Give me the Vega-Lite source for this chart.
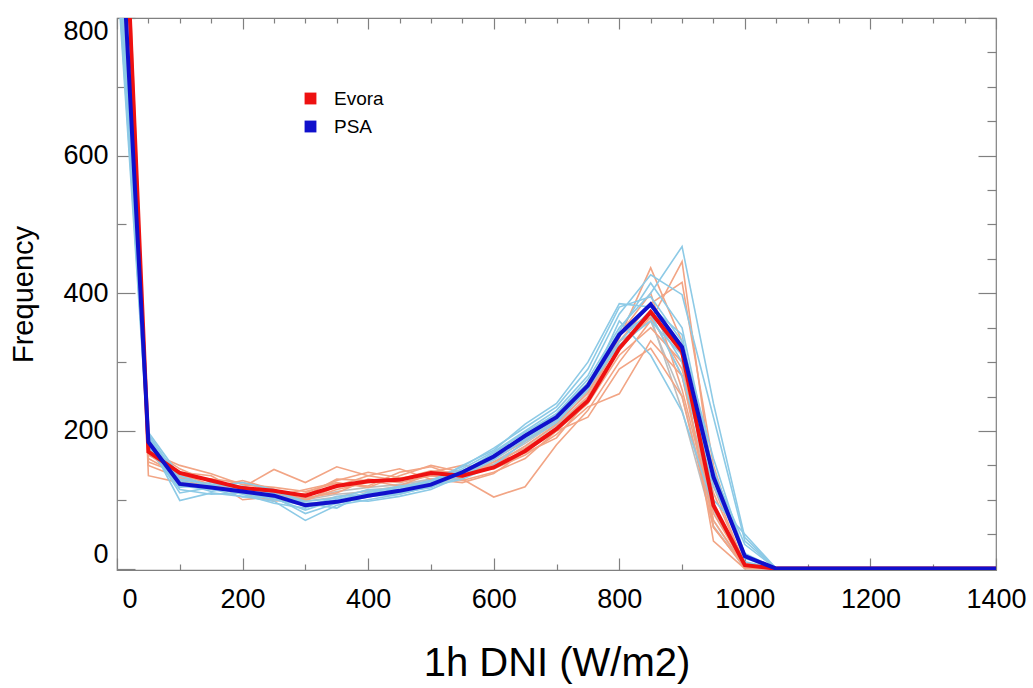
{
  "$schema": "https://vega.github.io/schema/vega-lite/v6.json",
  "width": 879,
  "height": 552,
  "autosize": {"type": "none"},
  "padding": {"left": 117, "top": 18, "right": 37, "bottom": 118},
  "background": "white",
  "config": {
    "font": "Liberation Sans",
    "view": {"stroke": "#808080", "strokeWidth": 1.2},
    "axis": {
      "domain": false,
      "grid": false,
      "labelColor": "black",
      "labelFont": "Liberation Sans",
      "labelFontSize": 27,
      "labelOverlap": false,
      "tickColor": "#808080",
      "tickWidth": 1.2,
      "titleColor": "black",
      "titleFont": "Liberation Sans",
      "titleFontWeight": "normal"
    }
  },
  "datasets": {
    "members": [
      {"x": 0, "E1": 1250, "E2": 1280, "E3": 1220, "E4": 1300, "E5": 1240, "E6": 1260, "E7": 1270, "E8": 1230, "P1": 900, "P2": 880, "P3": 920, "P4": 890, "P5": 910, "P6": 940, "P7": 900, "P8": 950, "P9": 870, "G1": 1000, "G2": 1020, "G3": 990},
      {"x": 50, "E1": 160, "E2": 135, "E3": 175, "E4": 170, "E5": 165, "E6": 150, "E7": 168, "E8": 155, "P1": 195, "P2": 190, "P3": 185, "P4": 198, "P5": 175, "P6": 180, "P7": 188, "P8": 192, "P9": 178, "G1": 180, "G2": 172, "G3": 176},
      {"x": 100, "E1": 135, "E2": 125, "E3": 145, "E4": 150, "E5": 140, "E6": 132, "E7": 128, "E8": 138, "P1": 130, "P2": 120, "P3": 99, "P4": 135, "P5": 115, "P6": 110, "P7": 125, "P8": 128, "P9": 118, "G1": 128, "G2": 132, "G3": 125},
      {"x": 150, "E1": 130, "E2": 120, "E3": 125, "E4": 138, "E5": 135, "E6": 130, "E7": 118, "E8": 122, "P1": 122, "P2": 115, "P3": 110, "P4": 120, "P5": 108, "P6": 118, "P7": 112, "P8": 116, "P9": 125, "G1": 120, "G2": 122, "G3": 118},
      {"x": 200, "E1": 125, "E2": 110, "E3": 118, "E4": 122, "E5": 110, "E6": 100, "E7": 128, "E8": 115, "P1": 118, "P2": 112, "P3": 105, "P4": 125, "P5": 110, "P6": 108, "P7": 120, "P8": 104, "P9": 115, "G1": 112, "G2": 115, "G3": 110},
      {"x": 250, "E1": 112, "E2": 100, "E3": 144, "E4": 118, "E5": 98, "E6": 105, "E7": 115, "E8": 108, "P1": 110, "P2": 102, "P3": 98, "P4": 115, "P5": 100, "P6": 95, "P7": 108, "P8": 104, "P9": 112, "G1": 108, "G2": 110, "G3": 106},
      {"x": 300, "E1": 100, "E2": 110, "E3": 125, "E4": 112, "E5": 103, "E6": 115, "E7": 98, "E8": 106, "P1": 90, "P2": 85, "P3": 70, "P4": 95, "P5": 92, "P6": 88, "P7": 95, "P8": 80, "P9": 98, "G1": 100, "G2": 102, "G3": 98},
      {"x": 350, "E1": 115, "E2": 128, "E3": 148, "E4": 124, "E5": 110, "E6": 125, "E7": 120, "E8": 130, "P1": 95, "P2": 100, "P3": 92, "P4": 88, "P5": 100, "P6": 105, "P7": 98, "P8": 95, "P9": 102, "G1": 108, "G2": 112, "G3": 104},
      {"x": 400, "E1": 125, "E2": 140, "E3": 135, "E4": 120, "E5": 130, "E6": 118, "E7": 135, "E8": 128, "P1": 104, "P2": 110, "P3": 100, "P4": 112, "P5": 98, "P6": 108, "P7": 110, "P8": 105, "P9": 115, "G1": 112, "G2": 118, "G3": 114},
      {"x": 450, "E1": 130, "E2": 132, "E3": 128, "E4": 140, "E5": 125, "E6": 135, "E7": 145, "E8": 120, "P1": 112, "P2": 115, "P3": 108, "P4": 118, "P5": 105, "P6": 110, "P7": 120, "P8": 108, "P9": 115, "G1": 120, "G2": 122, "G3": 118},
      {"x": 500, "E1": 142, "E2": 135, "E3": 140, "E4": 148, "E5": 135, "E6": 150, "E7": 130, "E8": 138, "P1": 118, "P2": 125, "P3": 120, "P4": 128, "P5": 115, "P6": 118, "P7": 125, "P8": 120, "P9": 128, "G1": 128, "G2": 130, "G3": 126},
      {"x": 550, "E1": 138, "E2": 130, "E3": 150, "E4": 132, "E5": 128, "E6": 140, "E7": 125, "E8": 142, "P1": 138, "P2": 145, "P3": 142, "P4": 148, "P5": 135, "P6": 140, "P7": 150, "P8": 130, "P9": 142, "G1": 138, "G2": 136, "G3": 140},
      {"x": 600, "E1": 150, "E2": 104, "E3": 145, "E4": 155, "E5": 140, "E6": 160, "E7": 138, "E8": 150, "P1": 160, "P2": 170, "P3": 165, "P4": 175, "P5": 158, "P6": 168, "P7": 172, "P8": 150, "P9": 162, "G1": 155, "G2": 152, "G3": 158},
      {"x": 650, "E1": 178, "E2": 119, "E3": 165, "E4": 175, "E5": 160, "E6": 185, "E7": 170, "E8": 168, "P1": 195, "P2": 200, "P3": 190, "P4": 205, "P5": 188, "P6": 198, "P7": 210, "P8": 185, "P9": 192, "G1": 182, "G2": 178, "G3": 186},
      {"x": 700, "E1": 210, "E2": 180, "E3": 195, "E4": 205, "E5": 200, "E6": 215, "E7": 200, "E8": 190, "P1": 225, "P2": 230, "P3": 218, "P4": 235, "P5": 215, "P6": 225, "P7": 240, "P8": 212, "P9": 220, "G1": 212, "G2": 208, "G3": 216},
      {"x": 750, "E1": 255, "E2": 230, "E3": 235, "E4": 250, "E5": 240, "E6": 270, "E7": 220, "E8": 245, "P1": 275, "P2": 280, "P3": 260, "P4": 290, "P5": 265, "P6": 270, "P7": 300, "P8": 262, "P9": 268, "G1": 255, "G2": 250, "G3": 258},
      {"x": 800, "E1": 335, "E2": 300, "E3": 254, "E4": 330, "E5": 310, "E6": 340, "E7": 290, "E8": 320, "P1": 350, "P2": 370, "P3": 360, "P4": 380, "P5": 330, "P6": 345, "P7": 385, "P8": 325, "P9": 340, "G1": 330, "G2": 320, "G3": 340},
      {"x": 850, "E1": 437, "E2": 360, "E3": 331, "E4": 385, "E5": 350, "E6": 400, "E7": 320, "E8": 365, "P1": 400, "P2": 427, "P3": 310, "P4": 395, "P5": 375, "P6": 415, "P7": 380, "P8": 360, "P9": 370, "G1": 360, "G2": 370, "G3": 365},
      {"x": 900, "E1": 330, "E2": 446, "E3": 280, "E4": 416, "E5": 300, "E6": 260, "E7": 250, "E8": 290, "P1": 468, "P2": 398, "P3": 228, "P4": 330, "P5": 300, "P6": 350, "P7": 340, "P8": 310, "P9": 280, "G1": 250, "G2": 280, "G3": 230},
      {"x": 950, "E1": 60, "E2": 120, "E3": 70, "E4": 150, "E5": 40, "E6": 80, "E7": 60, "E8": 110, "P1": 240, "P2": 220, "P3": 90, "P4": 160, "P5": 130, "P6": 140, "P7": 100, "P8": 145, "P9": 120, "G1": 70, "G2": 85, "G3": 62},
      {"x": 1000, "E1": 2, "E2": 5, "E3": 3, "E4": 8, "E5": 0, "E6": 4, "E7": 2, "E8": 6, "P1": 45, "P2": 40, "P3": 10, "P4": 20, "P5": 15, "P6": 35, "P7": 50, "P8": 18, "P9": 22, "G1": 0, "G2": 2, "G3": 0},
      {"x": 1050, "E1": 0, "E2": 0, "E3": 0, "E4": 0, "E5": 0, "E6": 0, "E7": 0, "E8": 0, "P1": 0, "P2": 0, "P3": 0, "P4": 0, "P5": 0, "P6": 0, "P7": 0, "P8": 0, "P9": 0, "G1": 0, "G2": 0, "G3": 0},
      {"x": 1100, "E1": 0, "E2": 0, "E3": 0, "E4": 0, "E5": 0, "E6": 0, "E7": 0, "E8": 0, "P1": 0, "P2": 0, "P3": 0, "P4": 0, "P5": 0, "P6": 0, "P7": 0, "P8": 0, "P9": 0, "G1": 0, "G2": 0, "G3": 0},
      {"x": 1150, "E1": 0, "E2": 0, "E3": 0, "E4": 0, "E5": 0, "E6": 0, "E7": 0, "E8": 0, "P1": 0, "P2": 0, "P3": 0, "P4": 0, "P5": 0, "P6": 0, "P7": 0, "P8": 0, "P9": 0, "G1": 0, "G2": 0, "G3": 0},
      {"x": 1200, "E1": 0, "E2": 0, "E3": 0, "E4": 0, "E5": 0, "E6": 0, "E7": 0, "E8": 0, "P1": 0, "P2": 0, "P3": 0, "P4": 0, "P5": 0, "P6": 0, "P7": 0, "P8": 0, "P9": 0, "G1": 0, "G2": 0, "G3": 0},
      {"x": 1250, "E1": 0, "E2": 0, "E3": 0, "E4": 0, "E5": 0, "E6": 0, "E7": 0, "E8": 0, "P1": 0, "P2": 0, "P3": 0, "P4": 0, "P5": 0, "P6": 0, "P7": 0, "P8": 0, "P9": 0, "G1": 0, "G2": 0, "G3": 0},
      {"x": 1300, "E1": 0, "E2": 0, "E3": 0, "E4": 0, "E5": 0, "E6": 0, "E7": 0, "E8": 0, "P1": 0, "P2": 0, "P3": 0, "P4": 0, "P5": 0, "P6": 0, "P7": 0, "P8": 0, "P9": 0, "G1": 0, "G2": 0, "G3": 0},
      {"x": 1350, "E1": 0, "E2": 0, "E3": 0, "E4": 0, "E5": 0, "E6": 0, "E7": 0, "E8": 0, "P1": 0, "P2": 0, "P3": 0, "P4": 0, "P5": 0, "P6": 0, "P7": 0, "P8": 0, "P9": 0, "G1": 0, "G2": 0, "G3": 0},
      {"x": 1400, "E1": 0, "E2": 0, "E3": 0, "E4": 0, "E5": 0, "E6": 0, "E7": 0, "E8": 0, "P1": 0, "P2": 0, "P3": 0, "P4": 0, "P5": 0, "P6": 0, "P7": 0, "P8": 0, "P9": 0, "G1": 0, "G2": 0, "G3": 0}
    ],
    "means": [
      {"x": 0, "Evora": 1240, "PSA": 1045},
      {"x": 50, "Evora": 170, "PSA": 184},
      {"x": 100, "Evora": 139, "PSA": 123},
      {"x": 150, "Evora": 128, "PSA": 118},
      {"x": 200, "Evora": 117, "PSA": 112},
      {"x": 250, "Evora": 113, "PSA": 106},
      {"x": 300, "Evora": 106, "PSA": 92},
      {"x": 350, "Evora": 120, "PSA": 97},
      {"x": 400, "Evora": 127, "PSA": 106},
      {"x": 450, "Evora": 129, "PSA": 113},
      {"x": 500, "Evora": 139, "PSA": 122},
      {"x": 550, "Evora": 135, "PSA": 140},
      {"x": 600, "Evora": 147, "PSA": 163},
      {"x": 650, "Evora": 171, "PSA": 193},
      {"x": 700, "Evora": 203, "PSA": 220},
      {"x": 750, "Evora": 244, "PSA": 266},
      {"x": 800, "Evora": 320, "PSA": 340},
      {"x": 850, "Evora": 373, "PSA": 384},
      {"x": 900, "Evora": 315, "PSA": 322},
      {"x": 950, "Evora": 92, "PSA": 133},
      {"x": 1000, "Evora": 5, "PSA": 18},
      {"x": 1050, "Evora": 0, "PSA": 0},
      {"x": 1100, "Evora": 0, "PSA": 0},
      {"x": 1150, "Evora": 0, "PSA": 0},
      {"x": 1200, "Evora": 0, "PSA": 0},
      {"x": 1250, "Evora": 0, "PSA": 0},
      {"x": 1300, "Evora": 0, "PSA": 0},
      {"x": 1350, "Evora": 0, "PSA": 0},
      {"x": 1400, "Evora": 0, "PSA": 0}
    ]
  },
  "layer": [
    {
      "layer": [
        {
          "data": {"name": "members"},
          "transform": [
            {"fold": ["G1", "G2", "G3", "E1", "E2", "E3", "E4", "E5", "E6", "E7", "E8", "P1", "P2", "P3", "P4", "P5", "P6", "P7", "P8", "P9"], "as": ["key", "v"]}
          ],
          "mark": {"type": "line", "strokeWidth": 1.6, "clip": true},
          "encoding": {
            "x": {
              "field": "x", "type": "quantitative",
              "scale": {"domain": [0, 1400], "nice": false, "zero": false},
              "axis": {
                "orient": "bottom",
                "format": "d",
                "values": [0, 50, 100, 150, 200, 250, 300, 350, 400, 450, 500, 550, 600, 650, 700, 750, 800, 850, 900, 950, 1000, 1050, 1100, 1150, 1200, 1250, 1300, 1350, 1400],
                "labelExpr": "datum.value % 200 === 0 ? datum.label : ''",
                "tickSize": {"condition": {"test": "datum.value % 200 === 0", "value": -12}, "value": -6},
                "labelAlign": {"condition": {"test": "datum.value === 0", "value": "left"}, "value": "center"},
                "labelOffset": {"condition": {"test": "datum.value === 0", "value": 5}, "value": 0},
                "labelPadding": 28,
                "title": "1h DNI (W/m2)",
                "titleFontSize": 40,
                "titlePadding": 25
              }
            },
            "y": {
              "field": "v", "type": "quantitative",
              "scale": {"domain": [-2, 800], "nice": false, "zero": false},
              "axis": {
                "orient": "left",
                "values": [0, 50, 100, 150, 200, 250, 300, 350, 400, 450, 500, 550, 600, 650, 700, 750, 800],
                "labelExpr": "datum.value % 200 === 0 ? datum.label : ''",
                "tickSize": {"condition": {"test": "datum.value % 200 === 0", "value": -18}, "value": -9},
                "labelFlush": 3,
                "labelPadding": 27,
                "title": "Frequency",
                "titleFontSize": 29,
                "titlePadding": 24
              }
            },
            "stroke": {
              "field": "key", "type": "nominal", "legend": null,
              "scale": {
                "domain": ["G1", "G2", "G3", "E1", "E2", "E3", "E4", "E5", "E6", "E7", "E8", "P1", "P2", "P3", "P4", "P5", "P6", "P7", "P8", "P9"],
                "range": ["#BEBEBE", "#BEBEBE", "#BEBEBE", "#F2A585", "#F2A585", "#F2A585", "#F2A585", "#F2A585", "#F2A585", "#F2A585", "#F2A585", "#8DCAE6", "#8DCAE6", "#8DCAE6", "#8DCAE6", "#8DCAE6", "#8DCAE6", "#8DCAE6", "#8DCAE6", "#8DCAE6"]
              }
            }
          }
        },
        {
          "data": {"name": "means"},
          "transform": [{"fold": ["Evora", "PSA"], "as": ["key", "v"]}],
          "mark": {"type": "line", "strokeWidth": 4, "clip": true},
          "encoding": {
            "x": {"field": "x", "type": "quantitative"},
            "y": {"field": "v", "type": "quantitative"},
            "color": {
              "field": "key", "type": "nominal",
              "scale": {"domain": ["Evora", "PSA"], "range": ["#EE1111", "#1010CC"]},
              "legend": {
                "title": null,
                "orient": "none",
                "legendX": 184,
                "legendY": 71,
                "symbolType": "square",
                "symbolSize": 140,
                "symbolStrokeWidth": 0,
                "labelFont": "Liberation Sans",
                "labelFontSize": 19,
                "labelColor": "black",
                "labelOffset": 14,
                "rowPadding": 8,
                "encode": {
                  "symbols": {"update": {"fill": {"scale": "color", "field": "value"}, "fillOpacity": {"value": 1}}}
                }
              }
            }
          }
        }
      ]
    },
    {
      "data": {"name": "means"},
      "mark": {"type": "point", "opacity": 0},
      "encoding": {
        "x": {
          "field": "x", "type": "quantitative",
          "scale": {"domain": [0, 1400], "nice": false, "zero": false},
          "axis": {
            "orient": "top",
            "labels": false,
            "title": null,
            "values": [0, 50, 100, 150, 200, 250, 300, 350, 400, 450, 500, 550, 600, 650, 700, 750, 800, 850, 900, 950, 1000, 1050, 1100, 1150, 1200, 1250, 1300, 1350, 1400],
            "tickSize": {"condition": {"test": "datum.value % 200 === 0", "value": -11}, "value": -5}
          }
        },
        "y": {
          "field": "PSA", "type": "quantitative",
          "scale": {"domain": [-2, 800], "nice": false, "zero": false},
          "axis": {
            "orient": "right",
            "labels": false,
            "title": null,
            "values": [0, 50, 100, 150, 200, 250, 300, 350, 400, 450, 500, 550, 600, 650, 700, 750, 800],
            "tickSize": {"condition": {"test": "datum.value % 200 === 0", "value": -18}, "value": -9}
          }
        }
      }
    }
  ],
  "resolve": {"scale": {"x": "independent", "y": "independent"}}
}
